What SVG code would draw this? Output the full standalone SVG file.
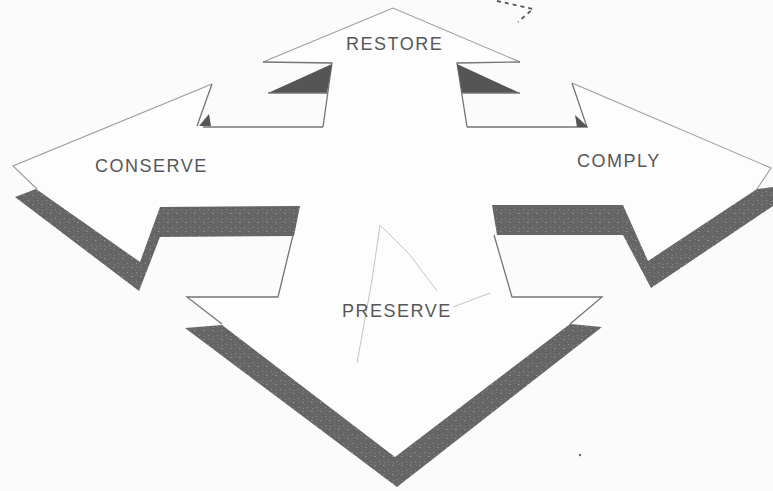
<svg xmlns="http://www.w3.org/2000/svg" width="773" height="491" viewBox="0 0 773 491">
  <defs>
    <pattern id="speckle" width="9" height="9" patternUnits="userSpaceOnUse">
      <rect width="9" height="9" fill="#666666"/>
      <rect x="1" y="2" width="1" height="1" fill="#939393"/>
      <rect x="5" y="6" width="1.5" height="1" fill="#959595"/>
      <rect x="7" y="1" width="1" height="1" fill="#585858"/>
      <rect x="3" y="7" width="1" height="1" fill="#575757"/>
      <rect x="6" y="3" width="1" height="1" fill="#858585"/>
      <rect x="2" y="5" width="1" height="1" fill="#7a7a7a"/>
    </pattern>
    <style>
      .face { fill: #fdfdfd; stroke: none; }
      .edge { fill: none; stroke: #747474; stroke-width: 1.3; stroke-linejoin: miter; }
      .faint { fill: none; stroke: #9c9c9c; stroke-width: 1.1; }
      .shade { fill: url(#speckle); stroke: none; }
      .dark { fill: #555555; stroke: none; }
      .label { font-family: "Liberation Sans", Arial, sans-serif; font-size: 18px; letter-spacing: 1.5px; fill: #575757; }
      .stray { fill: none; stroke: #c4c4c4; stroke-width: 1; }
    </style>
  </defs>

  <rect width="773" height="491" fill="#fbfbfb"/>

  <!-- white face of the whole cross -->
  <g id="cross-body">
    <polygon class="face" points="393,8 520,62 457,63 467,127 587,127 572,83 771,168 757,189 648,261 623,205 492,205 512,297 602,297 570,324 395,457 222,324 187,297 278,297 300,205 160,207 140,262 37,189 13,166 212,84 197,126 323,127 332,63 263,62"/>
  </g>

  <!-- faint scan marks -->
  <g id="marks">
    <polyline class="stray" points="380,225 372,280 357,363"/>
    <polyline class="stray" points="380,225 410,255 437,291"/>
    <line class="stray" x1="453" y1="307" x2="490" y2="293"/>
    <polyline fill="none" stroke="#555" stroke-width="1.8" stroke-dasharray="4 4" points="497,1 533,9 518,22"/>
    <circle cx="580" cy="455" r="1.2" fill="#666"/>
  </g>

  <g id="arrow-restore">
    <polyline class="faint" points="263,62 393,8 520,62"/>
    <polyline class="edge" points="323,127 332,63 263,62"/>
    <polyline class="edge" points="520,62 457,63 467,127"/>
    <polygon class="dark" points="268,93 332,64 327,93"/>
    <polygon class="dark" points="457,64 520,93 462,93"/>
    <line class="edge" x1="268" y1="93" x2="327" y2="93"/>
    <line class="edge" x1="462" y1="93" x2="520" y2="93"/>
    <text class="label" x="346" y="50">RESTORE</text>
  </g>

  <g id="arrow-conserve">
    <polyline class="faint" points="37,189 13,166 212,84"/>
    <polyline class="edge" points="212,84 197,126"/>
    <polyline class="edge" points="203,127 323,127"/>
    <polygon class="dark" points="199,126 209,114 211,126"/>
    <polygon class="shade" points="15,197 36,189 140,262 160,207 300,206 294,236 160,237 139,291"/>
    <text class="label" x="95" y="172">CONSERVE</text>
  </g>

  <g id="arrow-comply">
    <polyline class="faint" points="572,83 771,168 757,189"/>
    <polyline class="edge" points="467,127 587,127 572,83"/>
    <polygon class="dark" points="575,115 588,127 577,127"/>
    <polygon class="shade" points="492,205 623,205 648,261 757,189 773,187 773,206 651,288 623,235 497,235"/>
    <text class="label" x="577" y="167">COMPLY</text>
  </g>

  <g id="arrow-preserve">
    <polyline class="edge" points="494,235 512,297 602,297 570,324"/>
    <polyline class="edge" points="222,324 187,297 278,297 293,235"/>
    <polygon class="shade" points="185,328 222,325 395,457 570,324 602,327 397,487"/>
    <text class="label" x="342" y="317">PRESERVE</text>
  </g>
</svg>
